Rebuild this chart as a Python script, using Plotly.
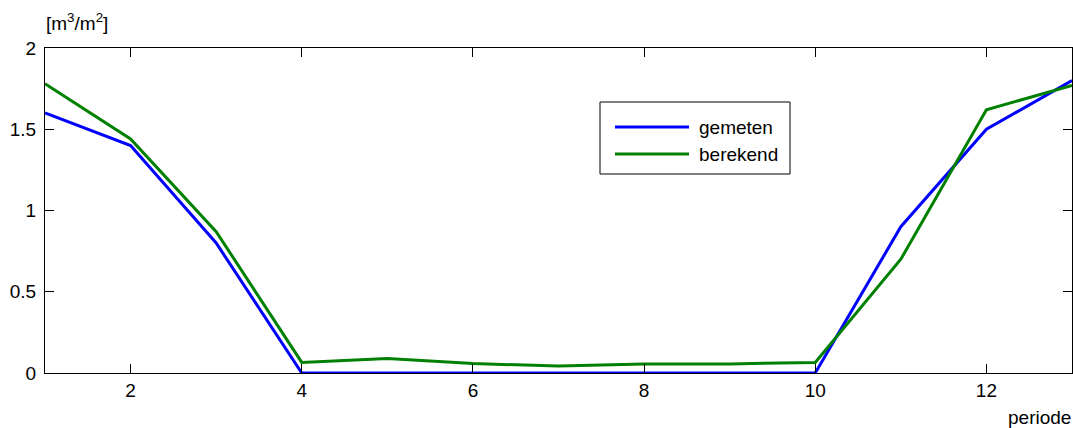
import plotly.graph_objects as go

# Period numbers and the two series (m3/m2)
periode = [1, 2, 3, 4, 5, 6, 7, 8, 9, 10, 11, 12, 13]
gemeten = [1.60, 1.40, 0.80, 0.0, 0.0, 0.0, 0.0, 0.0, 0.0, 0.0, 0.90, 1.50, 1.80]
berekend = [1.78, 1.44, 0.87, 0.065, 0.09, 0.058, 0.043, 0.056, 0.056, 0.065, 0.70, 1.62, 1.77]

x_ticks = [2, 4, 6, 8, 10, 12]
y_ticks = [0, 0.5, 1, 1.5, 2]
y_tick_text = ["0", "0.5", "1", "1.5", "2"]

BLUE = "#0000ff"
GREEN = "#008000"
FONT = "Liberation Sans, Arial, sans-serif"
FS = 19

W, H = 1073, 428
ML, MR, MT, MB = 45, 1, 48, 55
PW = W - ML - MR
PH = H - MT - MB


def px_to_paper(px, py):
    return (px - ML) / PW, (H - MB - py) / PH


fig = go.Figure()
fig.add_trace(go.Scatter(x=periode, y=gemeten, mode="lines", name="gemeten",
                         line=dict(color=BLUE, width=3), showlegend=False))
fig.add_trace(go.Scatter(x=periode, y=berekend, mode="lines", name="berekend",
                         line=dict(color=GREEN, width=3), showlegend=False))

axis_common = dict(showgrid=False, zeroline=False, showline=True, linecolor="black",
                   linewidth=1, mirror="ticks", ticks="inside", ticklen=9,
                   tickcolor="black", tickwidth=1,
                   tickfont=dict(family=FONT, size=FS, color="black"))

fig.update_xaxes(range=[1, 13], tickvals=x_ticks, **axis_common)
fig.update_yaxes(range=[0, 2], tickvals=y_ticks, ticktext=y_tick_text,
                 ticklabelstandoff=4, **axis_common)

shapes = []
annotations = []

# Legend box
x0, y0 = px_to_paper(600, 174)
x1, y1 = px_to_paper(790, 102)
shapes.append(dict(type="rect", xref="paper", yref="paper", x0=x0, y0=y0, x1=x1, y1=y1,
                   line=dict(color="black", width=1), fillcolor="white", layer="above"))
for label, color, py in [("gemeten", BLUE, 127), ("berekend", GREEN, 154)]:
    lx0, ly = px_to_paper(615, py)
    lx1, _ = px_to_paper(689, py)
    shapes.append(dict(type="line", xref="paper", yref="paper", x0=lx0, y0=ly, x1=lx1, y1=ly,
                       line=dict(color=color, width=3), layer="above"))
    tx, _ = px_to_paper(697, py)
    annotations.append(dict(text=label, xref="paper", yref="paper", x=tx, y=ly,
                            xanchor="left", yanchor="middle", showarrow=False,
                            font=dict(family=FONT, size=FS, color="black")))

# Axis labels
ax, ay = px_to_paper(44, 22)
annotations.append(dict(text="[m<sup>3</sup>/m<sup>2</sup>]", xref="paper", yref="paper",
                        x=ax, y=ay, xanchor="left", yanchor="middle", showarrow=False,
                        font=dict(family=FONT, size=FS, color="black")))
bx, by = px_to_paper(1073, 417)
annotations.append(dict(text="periode", xref="paper", yref="paper", x=bx, y=by,
                        xanchor="right", yanchor="middle", showarrow=False,
                        font=dict(family=FONT, size=FS, color="black")))

fig.update_layout(width=W, height=H, margin=dict(l=ML, r=MR, t=MT, b=MB),
                  paper_bgcolor="white", plot_bgcolor="white",
                  shapes=shapes, annotations=annotations, showlegend=False)

fig.write_html("out.html")
